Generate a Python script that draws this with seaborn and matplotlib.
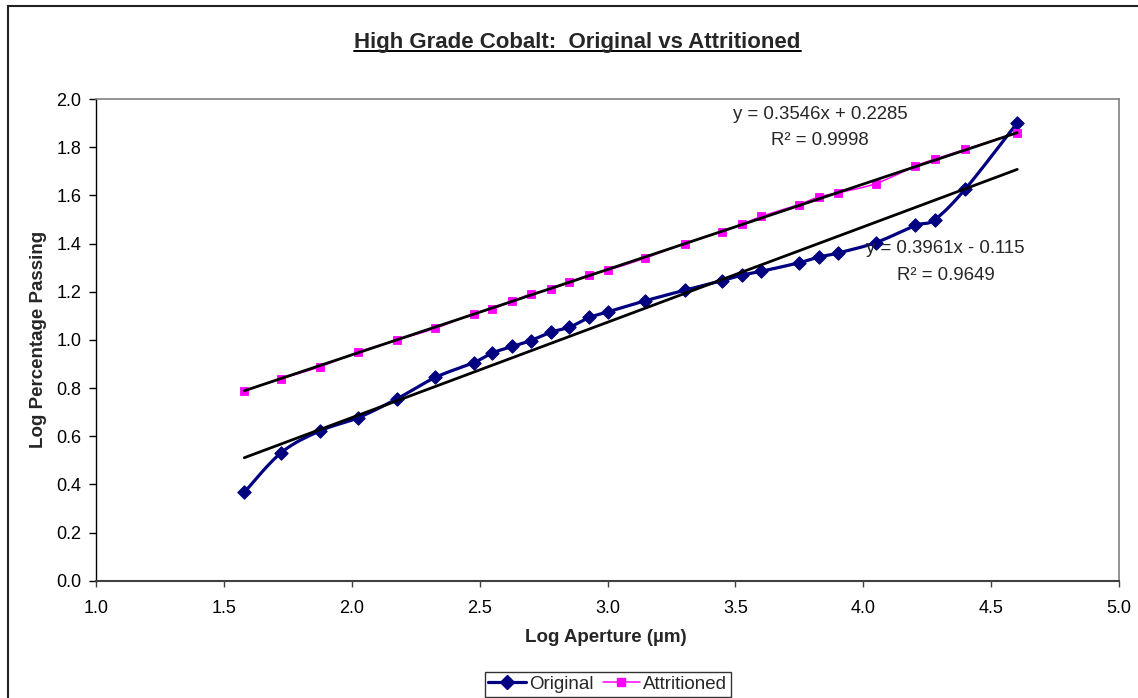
import numpy as np
import pandas as pd
import seaborn as sns
import matplotlib.pyplot as plt
from matplotlib.lines import Line2D
from matplotlib.patches import Rectangle

# Sieve apertures (µm) and log10 of cumulative percentage passing
aperture_um = [38, 53, 75, 106, 150, 212, 300, 355, 425, 500, 600, 710, 850, 1000,
               1400, 2000, 2800, 3350, 4000, 5600, 6700, 8000, 11200, 16000, 19000,
               25000, 40000]
original = [0.367, 0.532, 0.622, 0.677, 0.755, 0.844, 0.906, 0.946, 0.973, 0.997,
            1.032, 1.053, 1.093, 1.116, 1.162, 1.206, 1.246, 1.269, 1.285, 1.320,
            1.344, 1.361, 1.404, 1.475, 1.499, 1.625, 1.901]
attritioned = [0.789, 0.839, 0.888, 0.950, 0.999, 1.048, 1.109, 1.129, 1.160, 1.191,
               1.210, 1.240, 1.271, 1.289, 1.339, 1.400, 1.448, 1.480, 1.513, 1.562,
               1.594, 1.611, 1.649, 1.722, 1.750, 1.791, 1.860]

# Linear trendline coefficients (slope, intercept, R²)
fit_original = (0.3961, -0.115, 0.9649)
fit_attritioned = (0.3546, 0.2285, 0.9998)

x_ticks = [1.0, 1.5, 2.0, 2.5, 3.0, 3.5, 4.0, 4.5, 5.0]
y_ticks = [0.0, 0.2, 0.4, 0.6, 0.8, 1.0, 1.2, 1.4, 1.6, 1.8, 2.0]

NAVY = "#000080"
MAGENTA = "#FF00FF"

sns.set_theme(style="white")
plt.rcParams["font.family"] = ["Liberation Sans", "DejaVu Sans"]

log_ap = np.log10(aperture_um)


def smooth_curve(x, y, sx, sy, n=24):
    """Bezier smoothing through every point (screen-scaled), like a smoothed line chart."""
    px = np.asarray(x) * sx
    py = np.asarray(y) * sy
    P = np.column_stack([px, py])
    P = np.vstack([P[0], P, P[-1]])
    out = []
    t = np.linspace(0, 1, n)[:, None]
    for i in range(1, len(P) - 2):
        p0, p3 = P[i], P[i + 1]
        c1 = p0 + (P[i + 1] - P[i - 1]) / 6.0
        c2 = p3 - (P[i + 2] - P[i]) / 6.0
        seg = ((1 - t) ** 3) * p0 + 3 * ((1 - t) ** 2) * t * c1 + 3 * (1 - t) * t ** 2 * c2 + t ** 3 * p3
        out.append(seg if i == 1 else seg[1:])
    out = np.vstack(out)
    return pd.DataFrame({"x": out[:, 0] / sx, "y": out[:, 1] / sy})


fig = plt.figure(figsize=(11.38, 6.98), dpi=100)
ax = fig.add_axes([0.0844, 0.1680, 0.8989, 0.6901])

SX, SY = 255.75, 240.85  # pixels per data unit, for smoothing in screen space

orig_curve = smooth_curve(log_ap, original, SX, SY)
attr_curve = smooth_curve(log_ap, attritioned, SX, SY)

sns.lineplot(data=orig_curve, x="x", y="y", sort=False, estimator=None,
             color=NAVY, linewidth=2.3, ax=ax, zorder=3)
sns.lineplot(data=attr_curve, x="x", y="y", sort=False, estimator=None,
             color=MAGENTA, linewidth=1.1, ax=ax, zorder=3)

pts = pd.DataFrame({"x": log_ap, "original": original, "attritioned": attritioned})
sns.scatterplot(data=pts, x="x", y="original", marker="D", s=46, color=NAVY,
                edgecolor=NAVY, linewidth=0.8, ax=ax, zorder=4)
sns.scatterplot(data=pts, x="x", y="attritioned", marker="s", s=40, color=MAGENTA,
                edgecolor=MAGENTA, linewidth=0.6, ax=ax, zorder=4)

# Linear trendlines across the data range
xr = np.array([log_ap.min(), log_ap.max()])
for slope, icpt, _ in (fit_original, fit_attritioned):
    trend = pd.DataFrame({"x": xr, "y": slope * xr + icpt})
    sns.lineplot(data=trend, x="x", y="y", color="black", linewidth=2.0,
                 ax=ax, zorder=5)

# Trendline equations
eq_fs = 13.4
ax.text(3.831, 1.917, f"y = {fit_attritioned[0]}x + {fit_attritioned[1]}",
        ha="center", va="baseline", fontsize=eq_fs, zorder=6)
ax.text(3.831, 1.809, f"R² = {fit_attritioned[2]}", ha="center", va="baseline",
        fontsize=eq_fs, zorder=6)
ax.text(4.322, 1.359, f"y = {fit_original[0]}x - {abs(fit_original[1])}",
        ha="center", va="baseline", fontsize=eq_fs, zorder=6)
ax.text(4.322, 1.249, f"R² = {fit_original[2]}", ha="center", va="baseline",
        fontsize=eq_fs, zorder=6)

ax.set_xlim(1.0, 5.0)
ax.set_ylim(0.0, 2.0)
ax.set_xticks(x_ticks)
ax.set_yticks(y_ticks)
ax.set_xticklabels([f"{v:.1f}" for v in x_ticks])
ax.set_yticklabels([f"{v:.1f}" for v in y_ticks])
ax.tick_params(axis="x", bottom=True, direction="out", length=4, width=1,
               color="#404040", labelsize=13, pad=10, labelcolor="black")
ax.tick_params(axis="y", left=True, direction="out", length=5, width=1,
               color="black", labelsize=13, pad=5.5, labelcolor="black")

for side in ("top", "right"):
    ax.spines[side].set_color("#808080")
    ax.spines[side].set_linewidth(1.2)
ax.spines["left"].set_color("black")
ax.spines["left"].set_linewidth(1.0)
ax.spines["bottom"].set_color("#404040")
ax.spines["bottom"].set_linewidth(1.5)

ax.set_xlabel("Log Aperture (µm)", fontsize=13.5, fontweight="bold")
ax.set_ylabel("Log Percentage Passing", fontsize=13.5, fontweight="bold")
ax.xaxis.set_label_coords(0.4985, -0.117)
ax.yaxis.set_label_coords(-0.0567, 0.5)
ax.xaxis.label.set_va("center")
ax.yaxis.label.set_va("center")

# Underlined chart title
title_y = 0.931
title = fig.text(0.5075, title_y, "High Grade Cobalt:  Original vs Attritioned",
                 ha="center", va="baseline", fontsize=16, fontweight="bold")
fig.canvas.draw()
bb = title.get_window_extent(renderer=fig.canvas.get_renderer())
fw, fh = fig.bbox.width, fig.bbox.height
uy = title_y - 2.5 / fh
fig.add_artist(Line2D([bb.x0 / fw, bb.x1 / fw], [uy, uy], color="black",
                      linewidth=1.4, transform=fig.transFigure))

# Chart area frame
fig.add_artist(Rectangle((8 / 1138, -0.5), 1.5, 0.5 + (1 - 5.7 / 698),
                         transform=fig.transFigure, fill=False,
                         edgecolor="#222222", linewidth=1.5, clip_on=False))

handles = [
    Line2D([], [], color=NAVY, linewidth=2.3, marker="D", markersize=6.8,
           markerfacecolor=NAVY, markeredgecolor=NAVY),
    Line2D([], [], color=MAGENTA, linewidth=1.1, marker="s", markersize=6.2,
           markerfacecolor=MAGENTA, markeredgecolor=MAGENTA),
]
leg = fig.legend(handles, ["Original", "Attritioned"], loc="center",
                 bbox_to_anchor=(0.534, 0.0195), ncol=2, fontsize=13.5,
                 frameon=True, fancybox=False, edgecolor="black",
                 handlelength=2.0, handletextpad=0.15, columnspacing=0.5,
                 borderpad=0.2, borderaxespad=0.0)
leg.get_frame().set_linewidth(1.0)

fig.savefig("out.png", dpi=100)
